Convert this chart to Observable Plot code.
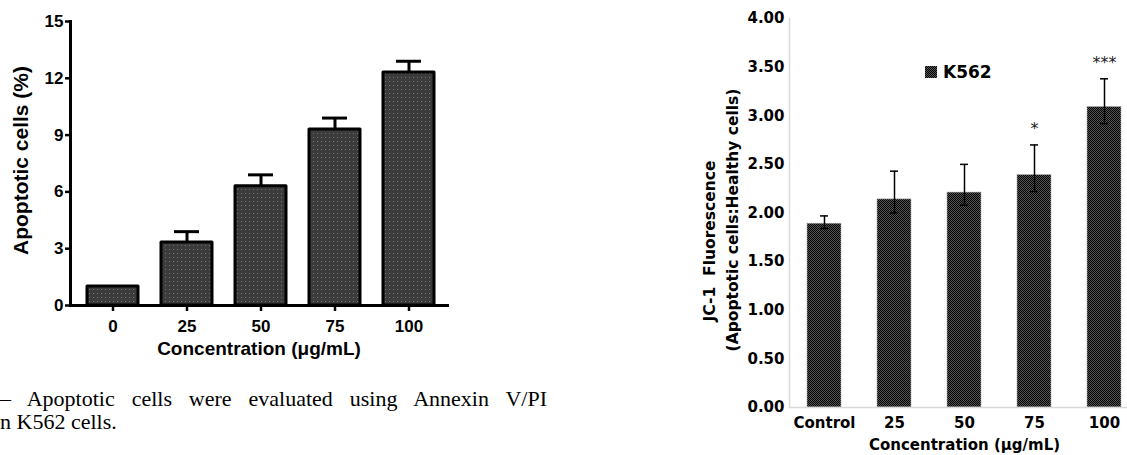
<!DOCTYPE html>
<html>
<head>
<meta charset="utf-8">
<script src="https://cdn.jsdelivr.net/npm/d3@7"></script>
<script src="https://cdn.jsdelivr.net/npm/@observablehq/plot@0.6"></script>
<style>
  html, body { margin: 0; padding: 0; background: #fff; }
  body { width: 1127px; height: 455px; overflow: hidden; position: relative; }
  #left, #right { position: absolute; top: 0; }
  #left { left: 0; width: 460px; }
  #right { left: 690px; width: 460px; }
  #left svg, #right svg { max-width: none !important; }
  #caption { position: absolute; left: 0; top: 387px; width: 547px;
    font-family: "Liberation Serif", "Times New Roman", serif; font-size: 22px; line-height: 23px; color: #000; }
  #caption .l1 { text-align: justify; text-align-last: justify; white-space: nowrap; }
  #legend { position: absolute; left: 925px; top: 62px; font-family: "DejaVu Sans", sans-serif;
    font-weight: bold; font-size: 17px; color: #000; display: flex; align-items: center; gap: 6px; }
  #legend .sw { width: 12px; height: 12px; background-color: #555;
    background-image: repeating-conic-gradient(#000 0 25%, #555 0 50%); background-size: 2px 2px; }
</style>
</head>
<body>
<svg width="0" height="0" style="position:absolute">
  <defs>
    <pattern id="dotsPat" width="4" height="4" patternUnits="userSpaceOnUse">
      <rect width="4" height="4" fill="#3c3c3c"></rect>
      <rect x="1" y="1" width="1" height="1" fill="#747474"></rect>
    </pattern>
    <pattern id="checkPat" width="2" height="2" patternUnits="userSpaceOnUse">
      <rect width="2" height="2" fill="#555"></rect>
      <rect x="0" y="0" width="1" height="1" fill="#000"></rect>
      <rect x="1" y="1" width="1" height="1" fill="#000"></rect>
    </pattern>
  </defs>
</svg>
<div id="left"></div>
<div id="right"></div>
<div id="legend"><span class="sw"></span><span>K562</span></div>
<div id="caption">
  <div class="l1">– Apoptotic cells were evaluated using Annexin V/PI</div>
  <div>n K562 cells.</div>
</div>
<script>
// ---- Left panel data (Annexin V/PI) ----
const leftConc = ["0", "25", "50", "75", "100"];
const apoptotic = [1.0, 3.33, 6.3, 9.3, 12.3];
const apoptoticErr = [0, 0.57, 0.6, 0.6, 0.6];
const leftTicks = [0, 3, 6, 9, 12, 15];

// ---- Right panel data (JC-1) ----
const rightConc = ["Control", "25", "50", "75", "100"];
const jc1 = [1.89, 2.14, 2.21, 2.39, 3.09];
const jc1High = [1.97, 2.43, 2.50, 2.70, 3.38];
const jc1Low = [1.84, 2.00, 2.08, 2.22, 2.92];
const signif = ["", "", "", "*", "***"];
const rightTicks = [0, 0.5, 1, 1.5, 2, 2.5, 3, 3.5, 4];

const leftData = leftConc.map((c, i) => ({c, v: apoptotic[i], e: apoptoticErr[i]}));
const rightData = rightConc.map((c, i) => ({c, v: jc1[i], lo: jc1Low[i], hi: jc1High[i], s: signif[i]}));

const left = Plot.plot({
  width: 460, height: 360,
  marginLeft: 70, marginRight: 13, marginTop: 21, marginBottom: 55,
  style: {fontFamily: "Liberation Sans, Arial, sans-serif", color: "#000", background: "transparent", maxWidth: "none"},
  x: {domain: leftConc, paddingInner: 0.313, paddingOuter: 0.195, align: 0.55},
  y: {domain: [0, 15]},
  marks: [
    Plot.barY(leftData, {x: "c", y: "v", fill: "url(#dotsPat)", stroke: "#000", strokeWidth: 3, strokeLinejoin: "round"}),
    Plot.ruleX(leftData.filter(d => d.e > 0), {x: "c", y1: "v", y2: d => d.v + d.e, stroke: "#000", strokeWidth: 3}),
    Plot.tickY(leftData.filter(d => d.e > 0), {x: "c", y: d => d.v + d.e, stroke: "#000", strokeWidth: 3, insetLeft: 13, insetRight: 13}),
    Plot.axisY({ticks: leftTicks, tickSize: 5, tickPadding: 2, fontSize: 17, fontWeight: "bold", strokeWidth: 2.5, label: null}),
    Plot.axisX({tickSize: 6, tickPadding: 8, fontSize: 17, fontWeight: "bold", strokeWidth: 2.5, label: null}),
    Plot.frame({anchor: "left", stroke: "#000", strokeWidth: 3}),
    Plot.frame({anchor: "bottom", stroke: "#000", strokeWidth: 3}),
    Plot.text(["Concentration (μg/mL)"], {frameAnchor: "bottom", dy: 43, lineAnchor: "middle", fontSize: 19, fontWeight: "bold"}),
    Plot.text(["Apoptotic cells (%)"], {frameAnchor: "left", textAnchor: "middle", dx: -49, dy: -3, rotate: -90, lineAnchor: "middle", fontSize: 21, fontWeight: "bold"})
  ]
});
document.getElementById("left").append(left);

const right = Plot.plot({
  width: 460, height: 455,
  marginLeft: 99, marginRight: 11, marginTop: 18, marginBottom: 48,
  style: {fontFamily: "DejaVu Sans, sans-serif", color: "#000", background: "transparent", maxWidth: "none"},
  x: {domain: rightConc, paddingInner: 0.514, paddingOuter: 0.257},
  y: {domain: [0, 4]},
  marks: [
    Plot.barY(rightData, {x: "c", y: "v", fill: "url(#checkPat)", stroke: "#aaa", strokeWidth: 0.6}),
    Plot.ruleX(rightData, {x: "c", y1: "lo", y2: "hi", stroke: "#000", strokeWidth: 1.5}),
    Plot.tickY(rightData, {x: "c", y: "hi", stroke: "#000", strokeWidth: 1.5, insetLeft: 13, insetRight: 13}),
    Plot.tickY(rightData, {x: "c", y: "lo", stroke: "#000", strokeWidth: 1.5, insetLeft: 13, insetRight: 13}),
    Plot.text(rightData, {x: "c", y: "hi", text: "s", dy: -16, lineAnchor: "middle", fontSize: 16, fill: "#222"}),
    Plot.frame({anchor: "left", stroke: "#d9d9d9", strokeWidth: 1.5}),
    Plot.frame({anchor: "bottom", stroke: "#d9d9d9", strokeWidth: 1.5}),
    Plot.axisY({ticks: rightTicks, tickSize: 0, tickPadding: 5, tickFormat: d => d.toFixed(2), fontSize: 15, fontWeight: "bold", label: null}),
    Plot.axisX({tickSize: 0, tickPadding: 10, fontSize: 15, fontWeight: "bold", label: null}),
    Plot.text(["Concentration (μg/mL)"], {frameAnchor: "bottom", dy: 38, lineAnchor: "middle", fontSize: 15, fontWeight: "bold"}),
    Plot.text(["JC-1  Fluorescence"], {frameAnchor: "left", textAnchor: "middle", dx: -79, dy: 28, rotate: -90, lineAnchor: "middle", fontSize: 15.5, fontWeight: "bold"}),
    Plot.text(["(Apoptotic cells:Healthy cells)"], {frameAnchor: "left", textAnchor: "middle", dx: -56, dy: 7, rotate: -90, lineAnchor: "middle", fontSize: 15.5, fontWeight: "bold"})
  ]
});
document.getElementById("right").append(right);
</script>
</body>
</html>
